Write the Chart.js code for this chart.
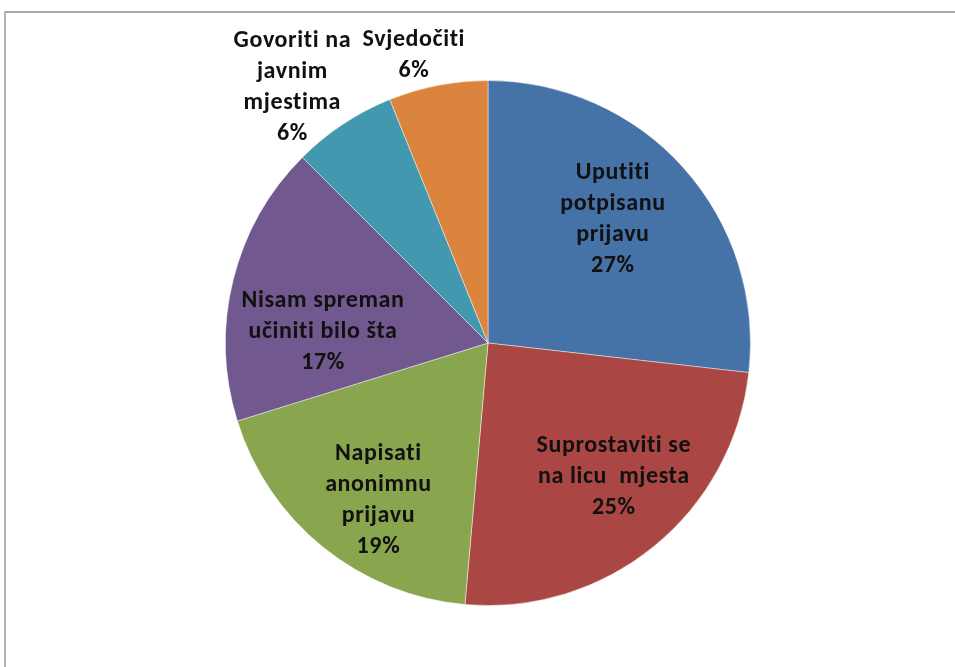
<!DOCTYPE html>
<html>
<head>
<meta charset="utf-8">
<script src="https://cdn.jsdelivr.net/npm/chart.js@4.4.0/dist/chart.umd.min.js"></script>
<style>
  html, body { margin: 0; padding: 0; background: #fff; overflow: hidden; }
  #wrap { position: relative; width: 955px; height: 667px; }
  #frame {
    position: absolute; left: 4px; top: 11px; width: 1000px; height: 700px;
    border-top: 2px solid #a9a9a9; border-left: 2px solid #b4b4b4;
  }
  canvas { position: absolute; left: 0; top: 0; }
</style>
</head>
<body>
<div id="wrap">
  <div id="frame"></div>
  <canvas id="pie" width="955" height="667"></canvas>
</div>
<script>
// slice names (each line of the label is one entry)
const categories = [
  ['Uputiti', 'potpisanu', 'prijavu'],
  ['Suprostaviti se', 'na licu  mjesta'],
  ['Napisati', 'anonimnu', 'prijavu'],
  ['Nisam spreman', 'učiniti bilo šta'],
  ['Govoriti na', 'javnim', 'mjestima'],
  ['Svjedočiti']
];
// shares (percent)
const values = [26.8, 24.6, 18.8, 17.3, 6.4, 6.1];
const colors = ['#4572A7', '#AA4643', '#89A54E', '#71588F', '#4198AF', '#DB843D'];

// where each label sits: fraction of radius and angle nudge (degrees)
const labelSpots = [
  { r: 0.67, a: -3 },
  { r: 0.70, a: -4 },
  { r: 0.73, a: -4 },
  { r: 0.63, a: -10 },
  { r: 1.225, a: -4 },
  { r: 1.13, a: -3.5 }
];

const labelPlugin = {
  id: 'sliceLabels',
  afterDatasetsDraw(chart) {
    const ctx = chart.ctx;
    const meta = chart.getDatasetMeta(0);
    const total = values.reduce((s, v) => s + v, 0);
    ctx.save();
    ctx.font = 'bold 24px Carlito, Lato, sans-serif';
    ctx.letterSpacing = '0.6px'; // also stops the "ti" ligature
    ctx.fillStyle = '#111';
    ctx.textAlign = 'center';
    ctx.textBaseline = 'middle';
    const lineH = 31;
    meta.data.forEach((arc, i) => {
      const p = arc.getProps(['x', 'y', 'startAngle', 'endAngle', 'outerRadius'], true);
      const spot = labelSpots[i];
      const mid = (p.startAngle + p.endAngle) / 2 + spot.a * Math.PI / 180;
      const cx = p.x + Math.cos(mid) * p.outerRadius * spot.r;
      const cy = p.y + Math.sin(mid) * p.outerRadius * spot.r;
      const lines = categories[i].concat([Math.round(values[i] / total * 100) + '%']);
      const top = cy - (lines.length - 1) * lineH / 2;
      lines.forEach((t, k) => ctx.fillText(t, cx, top + k * lineH));
    });
    ctx.restore();
  }
};

new Chart(document.getElementById('pie'), {
  type: 'pie',
  data: {
    labels: categories.map(c => c.join(' ')),
    datasets: [{
      data: values,
      backgroundColor: colors,
      borderColor: 'rgba(255,255,255,0.45)',
      borderWidth: 1
    }]
  },
  options: {
    responsive: false,
    animation: false,
    layout: { padding: { top: 80, bottom: 61, left: 21, right: 0 } },
    plugins: {
      legend: { display: false },
      tooltip: { enabled: false }
    }
  },
  plugins: [labelPlugin]
});
</script>
</body>
</html>
